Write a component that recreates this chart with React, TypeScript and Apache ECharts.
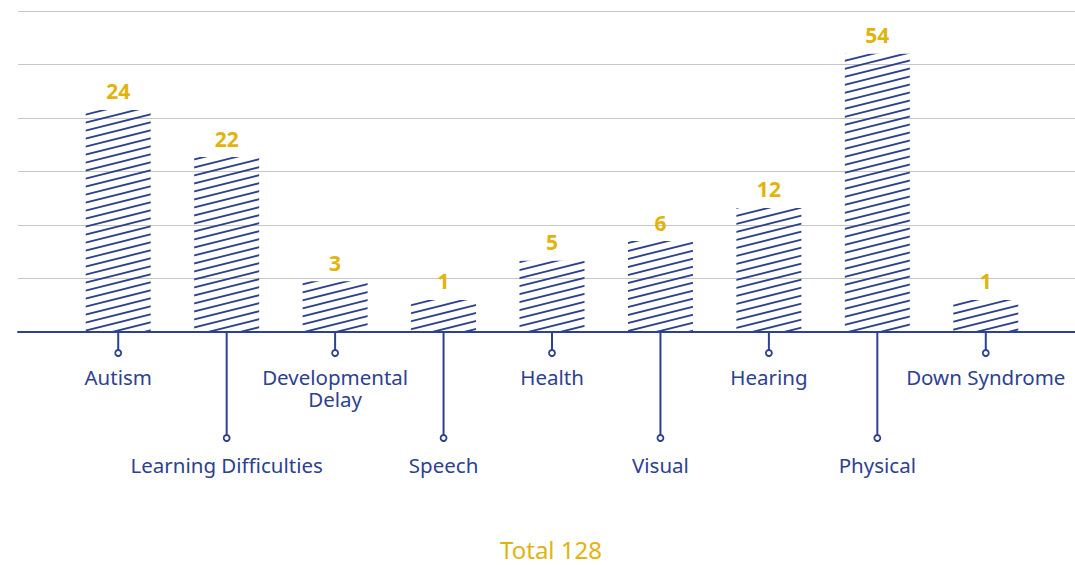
import React, { useEffect, useRef } from "react";
import * as echarts from "echarts";

const categories = [
  "Autism",
  "Learning Difficulties",
  "Developmental\nDelay",
  "Speech",
  "Health",
  "Visual",
  "Hearing",
  "Physical",
  "Down Syndrome",
];
const counts = [24, 22, 3, 1, 5, 6, 12, 54, 1];
// bar heights as drawn in the reference (in gridline units)
const barHeights = [4.15, 3.27, 0.95, 0.6, 1.33, 1.7, 2.32, 5.2, 0.6];
const gridTicks = [0, 6];

const BLUE = "#2D4190";
const GOLD = "#E2B30C";
const FONT = "Noto Sans";

function makeHatch(): HTMLCanvasElement {
  const c = document.createElement("canvas");
  c.width = 64;
  c.height = 16;
  const ctx = c.getContext("2d")!;
  ctx.strokeStyle = BLUE;
  ctx.lineWidth = 1.8;
  for (let k = -4; k <= 8; k++) {
    const c0 = k * 8;
    ctx.beginPath();
    ctx.moveTo(-16, c0 + 16 + 4);
    ctx.lineTo(80, c0 - 4);
    ctx.stroke();
  }
  return c;
}

export default function App() {
  const ref = useRef<HTMLDivElement>(null);
  useEffect(() => {
    if (!ref.current) return;
    const chart = echarts.init(ref.current, undefined, { renderer: "svg" });
    const total = counts.reduce((a, b) => a + b, 0);
    const hatch = makeHatch();
    chart.setOption({
      animation: false,
      backgroundColor: "#ffffff",
      graphic: [
        {
          type: "text",
          x: 551,
          y: 549,
          style: {
            text: "Total " + total,
            fill: GOLD,
            fontSize: 24,
            fontFamily: FONT,
            align: "center",
            verticalAlign: "middle",
          },
        },
      ],
      grid: [
        { left: 18, right: 0, top: 11, bottom: 233 },
        { left: 64, right: 35, top: 11, bottom: 233 },
      ],
      xAxis: [
        {
          type: "value",
          gridIndex: 0,
          min: 0,
          max: 1,
          axisLine: { show: true, onZero: false, lineStyle: { color: BLUE, width: 2 } },
          axisTick: { show: false },
          axisLabel: { show: false },
          splitLine: { show: false },
        },
        {
          type: "category",
          gridIndex: 1,
          data: categories,
          axisLine: { show: false },
          axisTick: { show: false },
          axisLabel: { show: false },
        },
      ],
      yAxis: [
        {
          type: "value",
          gridIndex: 0,
          min: gridTicks[0],
          max: gridTicks[1],
          interval: 1,
          axisLine: { show: false },
          axisTick: { show: false },
          axisLabel: { show: false },
          splitLine: { lineStyle: { color: "#c6c6c6", width: 1.2 } },
        },
        {
          type: "value",
          gridIndex: 1,
          min: gridTicks[0],
          max: gridTicks[1],
          interval: 1,
          show: false,
          splitLine: { show: false },
        },
      ],
      series: [
        {
          type: "bar",
          xAxisIndex: 1,
          yAxisIndex: 1,
          data: barHeights,
          barWidth: 65,
          itemStyle: { color: { image: hatch, repeat: "repeat" } as any },
          label: {
            show: true,
            position: "top",
            distance: 8,
            color: GOLD,
            fontSize: 21,
            fontWeight: "bold",
            fontFamily: FONT,
            formatter: (p: any) => String(counts[p.dataIndex]),
          },
          z: 3,
        },
        {
          type: "custom",
          xAxisIndex: 1,
          yAxisIndex: 1,
          data: categories.map((_, i) => [i, 0]),
          z: 4,
          renderItem: (params: any, api: any) => {
            const idx = api.value(0);
            const p = api.coord([idx, 0]);
            const long = idx % 2 === 1;
            const len = long ? 106 : 21;
            return {
              type: "group",
              children: [
                {
                  type: "line",
                  shape: { x1: p[0], y1: p[1], x2: p[0], y2: p[1] + len - 3 },
                  style: { stroke: BLUE, lineWidth: 2 },
                },
                {
                  type: "circle",
                  shape: { cx: p[0], cy: p[1] + len, r: 3 },
                  style: { fill: "#ffffff", stroke: BLUE, lineWidth: 1.8 },
                },
                {
                  type: "text",
                  x: p[0],
                  y: p[1] + (long ? 122 : 34),
                  style: {
                    text: categories[idx],
                    fill: BLUE,
                    fontSize: 20.5,
                    fontFamily: FONT,
                    align: "center",
                    verticalAlign: "top",
                    lineHeight: 22,
                  },
                },
              ],
            };
          },
        },
      ],
    });
    return () => chart.dispose();
  }, []);
  return (
    <div
      ref={ref}
      style={{ position: "fixed", left: 0, top: 0, width: 1075, height: 565 }}
    />
  );
}
